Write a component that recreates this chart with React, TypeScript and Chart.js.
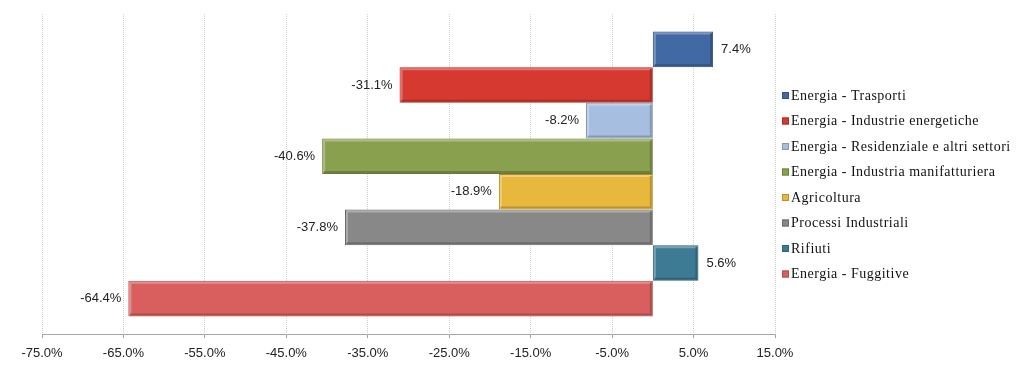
import React, { useEffect, useRef } from "react";
import { Chart, registerables } from "chart.js";

Chart.register(...registerables);

const seriesNames = [
  "Energia - Trasporti",
  "Energia - Industrie energetiche",
  "Energia - Residenziale e altri settori",
  "Energia - Industria manifatturiera",
  "Agricoltura",
  "Processi Industriali",
  "Rifiuti",
  "Energia - Fuggitive",
];
const seriesValues = [7.4, -31.1, -8.2, -40.6, -18.9, -37.8, 5.6, -64.4];
const seriesColors = [
  "#4169a3",
  "#d6392f",
  "#a6bfe0",
  "#89a04e",
  "#e8b83c",
  "#888888",
  "#3d7a93",
  "#d95f5f",
];
const categoryLabels = [""];
const xMin = -75;
const xMax = 15;
const xStep = 10;

function shade(hex: string, f: number) {
  const n = parseInt(hex.slice(1), 16);
  let r = (n >> 16) & 255, g = (n >> 8) & 255, b = n & 255;
  const m = (c: number) =>
    Math.max(0, Math.min(255, Math.round(f < 0 ? c * (1 + f) : c + (255 - c) * f)));
  return `rgb(${m(r)},${m(g)},${m(b)})`;
}

const labelPlugin = {
  id: "valueLabels",
  afterDatasetsDraw(chart: any) {
    const ctx = chart.ctx;
    ctx.save();
    ctx.font = "13px 'Liberation Sans', Arial, sans-serif";
    ctx.fillStyle = "#222";
    ctx.textBaseline = "middle";
    chart.data.datasets.forEach((ds: any, i: number) => {
      const meta = chart.getDatasetMeta(i);
      const el = meta.data[0];
      if (!el) return;
      const v = ds.data[0];
      const txt = v.toFixed(1) + "%";
      if (v >= 0) {
        ctx.textAlign = "left";
        ctx.fillText(txt, el.x + 8, el.y);
      } else {
        ctx.textAlign = "right";
        ctx.fillText(txt, el.x - 7, el.y);
      }
    });
    ctx.restore();
  },
};

const bevelPlugin = {
  id: "bevel",
  afterDatasetsDraw(chart: any) {
    const ctx = chart.ctx;
    ctx.save();
    chart.data.datasets.forEach((ds: any, i: number) => {
      const el = chart.getDatasetMeta(i).data[0];
      if (!el) return;
      const l = Math.min(el.x, el.base);
      const r = Math.max(el.x, el.base);
      const t = el.y - el.height / 2;
      const b = el.y + el.height / 2;
      const c = seriesColors[i];
      ctx.lineWidth = 2;
      ctx.strokeStyle = shade(c, 0.3);
      ctx.beginPath();
      ctx.moveTo(l + 2, b - 2);
      ctx.lineTo(l + 2, t + 2);
      ctx.lineTo(r - 2, t + 2);
      ctx.stroke();
      ctx.strokeStyle = shade(c, -0.2);
      ctx.beginPath();
      ctx.moveTo(r - 2, t + 2);
      ctx.lineTo(r - 2, b - 2);
      ctx.lineTo(l + 2, b - 2);
      ctx.stroke();
    });
    ctx.restore();
  },
};

const legendPlugin = {
  id: "customLegend",
  afterDraw(chart: any) {
    const ctx = chart.ctx;
    ctx.save();
    ctx.font = "14px 'Liberation Serif', 'Times New Roman', serif";
    try {
      (ctx as any).letterSpacing = "0.5px";
    } catch (e) {}
    ctx.textBaseline = "middle";
    ctx.textAlign = "left";
    const x0 = 782;
    const y0 = 95.5;
    const dy = 25.5;
    seriesNames.forEach((name, i) => {
      const y = y0 + i * dy;
      ctx.fillStyle = seriesColors[i];
      ctx.fillRect(x0, y - 3.5, 7, 7);
      ctx.strokeStyle = shade(seriesColors[i], -0.2);
      ctx.lineWidth = 1;
      ctx.strokeRect(x0 + 0.5, y - 3, 6, 6);
      ctx.fillStyle = "#111";
      ctx.fillText(name, x0 + 9, y + 0.5);
    });
    ctx.restore();
  },
};

export default function App() {
  const ref = useRef<HTMLCanvasElement>(null);
  useEffect(() => {
    if (!ref.current) return;
    const chart = new Chart(ref.current, {
      type: "bar",
      data: {
        labels: categoryLabels,
        datasets: seriesNames.map((name, i) => ({
          label: name,
          data: [seriesValues[i]],
          backgroundColor: seriesColors[i],
          borderColor: shade(seriesColors[i], -0.25),
          borderWidth: 1,
          borderSkipped: false,
          barPercentage: 1,
          categoryPercentage: 0.89,
        })),
      },
      options: {
        indexAxis: "y",
        responsive: false,
        animation: false,
        layout: { padding: { left: 42, right: 249, top: 14, bottom: 0 } },
        plugins: {
          legend: { display: false },
          tooltip: { enabled: false },
        },
        scales: {
          x: {
            type: "linear",
            position: "bottom",
            min: xMin,
            max: xMax,
            ticks: {
              stepSize: xStep,
              padding: 8,
              color: "#222",
              font: { family: "'Liberation Sans', Arial, sans-serif", size: 13 },
              callback: (v: any) => Number(v).toFixed(1) + "%",
            },
            grid: {
              color: "#cfcfcf",
              lineWidth: 1,
              tickLength: 4,
              tickColor: "#a0a0a0",
              tickBorderDash: [],
            } as any,
            border: { display: true, color: "#a8a8a8", width: 1, dash: [1, 1] } as any,
            afterFit: (scale: any) => {
              scale.height = 35;
            },
          },
          y: {
            type: "category",
            display: false,
          },
        },
      } as any,
      plugins: [bevelPlugin, labelPlugin, legendPlugin],
    });
    return () => chart.destroy();
  }, []);
  return (
    <div style={{ position: "fixed", left: 0, top: 0, width: 1024, height: 369, background: "#fff" }}>
      <canvas ref={ref} width={1024} height={369} />
    </div>
  );
}
